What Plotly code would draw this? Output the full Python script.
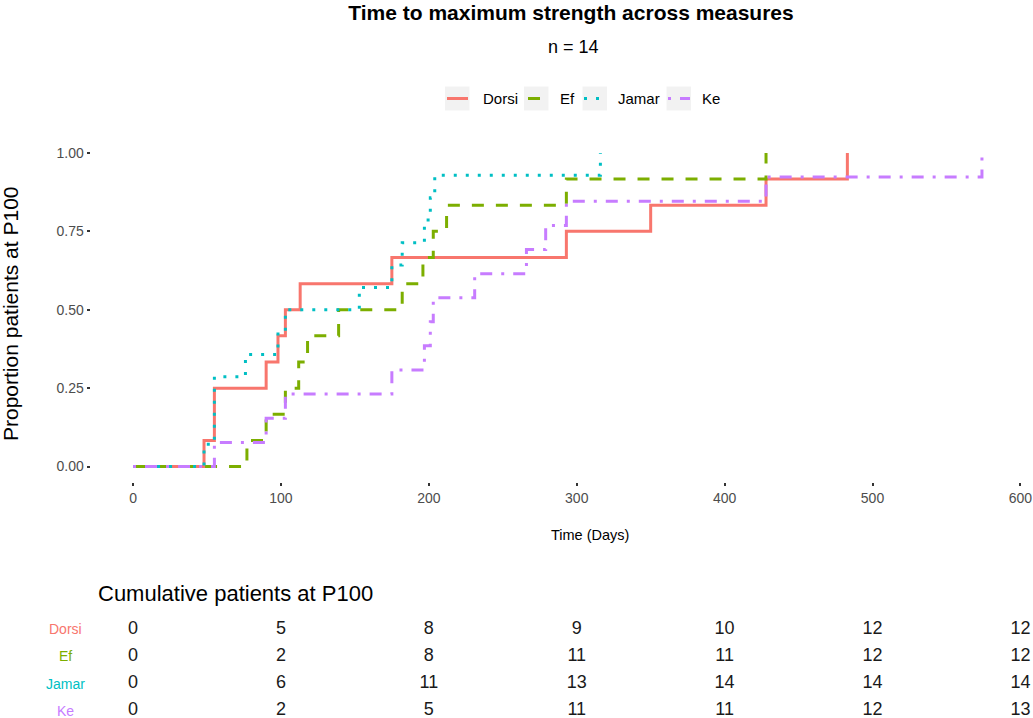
import plotly.graph_objects as go

# ---- data ----
series_names = ["Dorsi", "Ef", "Jamar", "Ke"]

dorsi_days = [0, 48, 55, 90, 98, 103, 113, 175, 293, 350, 428, 483]
dorsi_prop = [0, 0.083, 0.25, 0.333, 0.417, 0.5, 0.583, 0.667, 0.75, 0.833, 0.917, 1.0]

ef_days = [0, 77, 90, 103, 112, 118, 139, 182, 196, 203, 212, 293, 428]
ef_prop = [0, 0.083, 0.167, 0.25, 0.333, 0.417, 0.5, 0.583, 0.667, 0.75, 0.833, 0.917, 1.0]

jamar_days = [0, 48, 55, 76, 98, 103, 153, 175, 182, 197, 201, 204, 316]
jamar_prop = [0, 0.071, 0.286, 0.357, 0.429, 0.5, 0.571, 0.643, 0.714, 0.786, 0.857, 0.929, 1.0]

ke_days = [0, 55, 90, 103, 175, 197, 201, 203, 231, 266, 279, 293, 428, 574]
ke_prop = [0, 0.077, 0.154, 0.231, 0.308, 0.385, 0.462, 0.538, 0.615, 0.692, 0.769, 0.846, 0.923, 1.0]

table_days = [0, 100, 200, 300, 400, 500, 600]
dorsi_cum = [0, 5, 8, 9, 10, 12, 12]
ef_cum = [0, 2, 8, 11, 11, 12, 12]
jamar_cum = [0, 6, 11, 13, 14, 14, 14]
ke_cum = [0, 2, 5, 11, 11, 12, 13]

x_ticks = [0, 100, 200, 300, 400, 500, 600]
y_ticks = [0, 0.25, 0.5, 0.75, 1.0]
y_tick_labels = ["0.00", "0.25", "0.50", "0.75", "1.00"]

title_text = "Time to maximum strength across measures"
subtitle_text = "n = 14"
x_title = "Time (Days)"
y_title = "Proportion patients at P100"
table_title = "Cumulative patients at P100"

# ---- styles ----
colors = ["#F8766D", "#7CAE00", "#00BFC4", "#C77CFF"]
dashes = ["solid", "12px,12px", "3px,9px", "3px,9px,12px,9px"]
FONT = "Liberation Sans, Arial, Helvetica, sans-serif"

W, H = 1033, 718


def px_x(p):
    return p / W


def px_y(p):
    return 1 - p / H


curves = [(dorsi_days, dorsi_prop), (ef_days, ef_prop),
          (jamar_days, jamar_prop), (ke_days, ke_prop)]
table_rows = [dorsi_cum, ef_cum, jamar_cum, ke_cum]
row_pos = [4, 3, 2, 1]

fig = go.Figure()

for name, (d, p), c, dsh in zip(series_names, curves, colors, dashes):
    fig.add_trace(go.Scatter(
        x=d, y=p, mode="lines", name=name, line_shape="hv",
        line=dict(color=c, width=3, dash=dsh),
        xaxis="x", yaxis="y", showlegend=False))

for vals, r in zip(table_rows, row_pos):
    fig.add_trace(go.Scatter(
        x=table_days, y=[r] * len(table_days), mode="text",
        text=[str(v) for v in vals], textposition="middle center",
        textfont=dict(size=18, color="#1a1a1a", family=FONT),
        showlegend=False, xaxis="x2", yaxis="y2", cliponaxis=False,
        hoverinfo="skip"))

x_dom = [px_x(90.6), px_x(1024.4)]
x_rng = [-28.7, 602.7]

fig.update_layout(
    width=W, height=H, autosize=False,
    margin=dict(l=0, r=0, t=0, b=0, pad=0, autoexpand=False),
    paper_bgcolor="white", plot_bgcolor="white",
    font=dict(family=FONT, color="#000000"),
    title=dict(text="<b>" + title_text + "</b>", x=px_x(571), xanchor="center",
               y=px_y(13), yanchor="middle", yref="container", xref="container",
               font=dict(size=21, color="#000000")),
    xaxis=dict(domain=x_dom, range=x_rng, tickvals=x_ticks, automargin=False,
               ticks="outside", ticklen=3, tickwidth=1.5, tickcolor="#333333",
               showgrid=False, zeroline=False, showline=False,
               tickfont=dict(size=14, color="#4d4d4d")),
    yaxis=dict(domain=[px_y(482.2), px_y(137.3)], range=[-0.05, 1.05],
               tickvals=y_ticks, ticktext=y_tick_labels, automargin=False,
               ticks="outside", ticklen=3, tickwidth=1.5, tickcolor="#333333",
               showgrid=False, zeroline=False, showline=False,
               tickfont=dict(size=14, color="#4d4d4d")),
    xaxis2=dict(domain=x_dom, range=x_rng, anchor="y2", visible=False,
                automargin=False),
    yaxis2=dict(domain=[0, px_y(600)], range=[0.731, 5.08], anchor="x2",
                visible=False, automargin=False),
    showlegend=False,
)

annots = [
    dict(text=subtitle_text, x=px_x(573), y=px_y(47), xref="paper", yref="paper",
         xanchor="center", yanchor="middle", showarrow=False,
         font=dict(size=18, color="#000000")),
    dict(text=x_title, x=px_x(590), y=px_y(535), xref="paper", yref="paper",
         xanchor="center", yanchor="middle", showarrow=False,
         font=dict(size=14.5, color="#000000")),
    dict(text=y_title, x=px_x(10), y=px_y(314), xref="paper", yref="paper",
         xanchor="center", yanchor="middle", showarrow=False, textangle=-90,
         font=dict(size=21, color="#000000")),
    dict(text=table_title, x=px_x(95.5), y=px_y(593), xref="paper", yref="paper",
         xanchor="left", yanchor="middle", showarrow=False,
         font=dict(size=22, color="#000000")),
]
for name, c, r in zip(series_names, colors, row_pos):
    annots.append(dict(text=name, x=px_x(65), y=r, xref="paper", yref="y2",
                       xanchor="center", yanchor="middle", showarrow=False,
                       font=dict(size=14, color=c)))

# ---- legend (key boxes, key lines, labels) ----
key_left = [445, 524, 582.5, 666.5]
key_w = 24.5
key_top, key_bot = 86.5, 110.5
key_line = [(447, 468), (528, 540), (584, 602), (668, 690)]
label_left = [481, 558, 616, 700]
shapes = []
for name, c, dsh, kl, (l0, l1), tl in zip(series_names, colors, dashes,
                                          key_left, key_line, label_left):
    shapes.append(dict(type="rect", xref="paper", yref="paper",
                       x0=px_x(kl), x1=px_x(kl + key_w),
                       y0=px_y(key_bot), y1=px_y(key_top),
                       fillcolor="#F2F2F2", line=dict(width=0), layer="below"))
    shapes.append(dict(type="line", xref="paper", yref="paper",
                       x0=px_x(l0), x1=px_x(l1), y0=px_y(98.5), y1=px_y(98.5),
                       line=dict(color=c, width=3,
                                 dash="solid" if name == "Ef" else dsh)))
    annots.append(dict(text=name, x=px_x(tl), y=px_y(98.5), xref="paper",
                       yref="paper", xanchor="left", yanchor="middle",
                       showarrow=False, font=dict(size=15, color="#000000")))

fig.update_layout(annotations=annots, shapes=shapes)

fig.write_html("out.html",
               config={"displayModeBar": False, "responsive": False},
               post_script="document.body.style.margin='0';"
                           "document.body.style.padding='0';")
